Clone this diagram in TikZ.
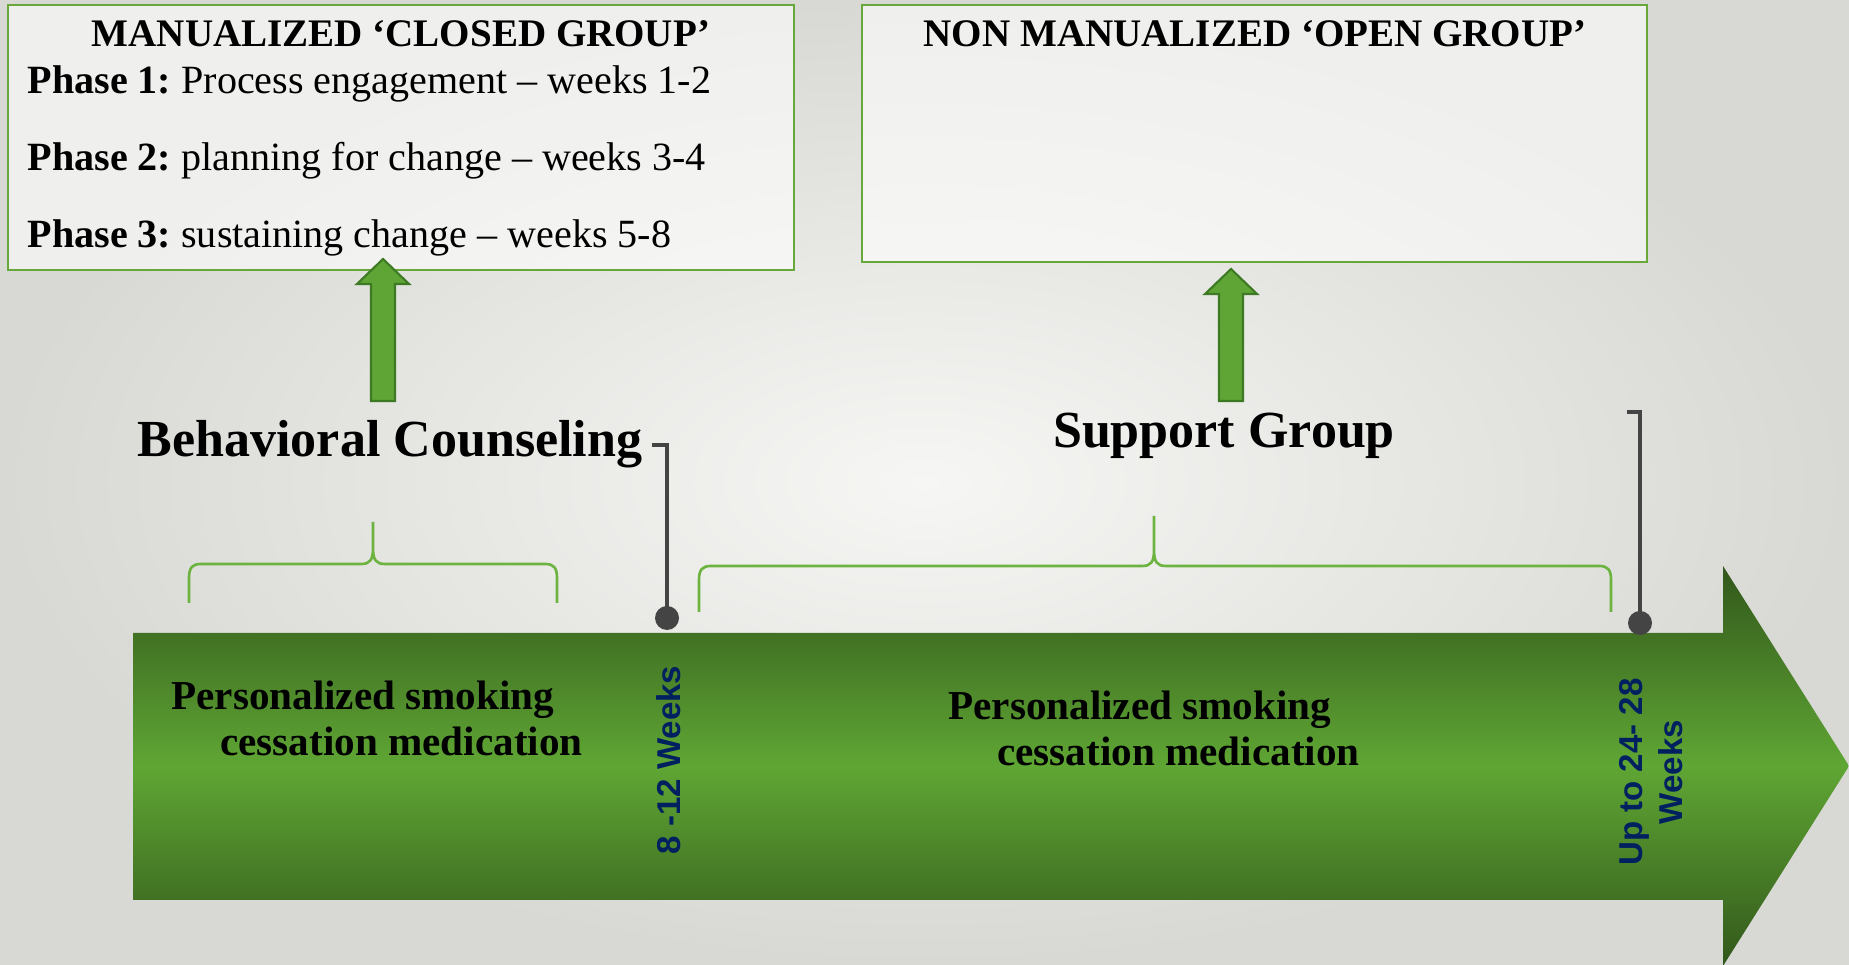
\documentclass[tikz,border=0pt]{standalone}
\usepackage{fontspec}
\setmainfont{Liberation Serif}
\setsansfont{Liberation Sans}
\usepackage[table]{xcolor}
\usepackage{tikz}

\definecolor{bgin}{HTML}{F6F6F4}
\definecolor{bgout}{HTML}{D8D8D4}
\definecolor{boxgreen}{HTML}{68A83A}
\definecolor{brcgreen}{HTML}{6DB33F}
\definecolor{dkgreen}{HTML}{32571B}
\definecolor{brgreen}{HTML}{5FA634}
\definecolor{arrfill}{HTML}{5FA535}
\definecolor{arrline}{HTML}{3E7A24}
\definecolor{tickgray}{HTML}{444444}
\definecolor{wknavy}{HTML}{002060}

\begin{document}
\frenchspacing
\begin{tikzpicture}[x=0.01cm, y=-0.01cm,
    box/.style={draw=boxgreen, line width=0.6pt, fill=white, fill opacity=0.6, inner sep=0pt},
    head/.style={font=\fontsize{11.1}{13}\selectfont\bfseries, anchor=base},
    phase/.style={font=\fontsize{11.4}{13}\selectfont, anchor=base west, inner sep=0pt},
    title/.style={font=\fontsize{14.8}{17}\selectfont\bfseries, anchor=base},
    medtxt/.style={font=\fontsize{11.7}{13.1}\selectfont\bfseries, align=left, inner sep=0pt},
    wk/.style={font=\fontsize{9.4}{11.4}\selectfont\sffamily\bfseries, text=wknavy, rotate=90, align=center, inner sep=0pt},
    brc/.style={draw=brcgreen, line width=0.75pt},
    uparr/.style={fill=arrfill, draw=arrline, line width=0.6pt},
    tick/.style={draw=tickgray, line width=1pt}]
    \useasboundingbox (0,0) rectangle (1849,965);
    \shade[inner color=bgin, outer color=bgout] (0,0) rectangle (1849,965);
    % the two group boxes
    \node[box, minimum width=7.86cm, minimum height=2.65cm] (cbox) at (401,137.5) {};
    \node[box, minimum width=7.85cm, minimum height=2.57cm] (obox) at (1254.5,133.5) {};
    \node[head] (chead) at (401,47) {MANUALIZED ‘CLOSED GROUP’};
    \node[head] (ohead) at (1255,47) {NON MANUALIZED ‘OPEN GROUP’};
    \foreach \n/\y/\txt in {1/94/Process engagement -- weeks 1-2,2/171/planning for change -- weeks 3-4,3/248/sustaining change -- weeks 5-8}
        \node[phase] (ph\n) at (27,\y) {\textbf{Phase \n:} \txt};
    % block arrows up to the boxes
    \foreach \x/\yb/\yt in {383/401/259,1231/401/269}
        \draw[uparr] (\x-12,\yb) -- (\x-12,\yt+25) -- (\x-26,\yt+25) -- (\x,\yt)
            -- (\x+26,\yt+25) -- (\x+12,\yt+25) -- (\x+12,\yb) -- cycle;
    \node[title] (bc) at (390,457) {Behavioral Counseling};
    \node[title] (sg) at (1224,448) {Support Group};
    % braces
    \foreach \a/\m/\b/\yh/\yb/\yt in {189/373/557/564/603/522,699/1154/1611/566/612/516}
        \draw[brc] (\a,\yb) -- (\a,\yh+14) .. controls (\a,\yh+4) and (\a+3,\yh) .. (\a+12,\yh)
            -- (\m-12,\yh) .. controls (\m-3,\yh) and (\m,\yh-4) .. (\m,\yh-16) -- (\m,\yt)
            -- (\m,\yh-16) .. controls (\m,\yh-4) and (\m+3,\yh) .. (\m+12,\yh)
            -- (\b-12,\yh) .. controls (\b-3,\yh) and (\b,\yh+4) .. (\b,\yh+14) -- (\b,\yb);
    % time line arrow
    \shade[top color=dkgreen, bottom color=dkgreen, middle color=brgreen]
        (133,633) -- (1723,633) -- (1723,566) -- (1849,766) -- (1723,966) -- (1723,900) -- (133,900) -- cycle;
    \node[medtxt] (med1) at (377,718) {Personalized smoking\\\hspace*{0.49cm}cessation medication};
    \node[medtxt] (med2) at (1154,728) {Personalized smoking\\\hspace*{0.49cm}cessation medication};
    \node[wk] (w1) at (669,760) {8 -12 Weeks};
    \node[wk] (w2) at (1651,772) {Up to 24- 28\\Weeks};
    % markers
    \coordinate (d1) at (667,618);
    \coordinate (d2) at (1640,623);
    \coordinate (e1) at (652,445);
    \coordinate (e2) at (1627,412);
    \draw[tick] (e1) -| (d1);
    \draw[tick] (e2) -| (d2);
    \fill[tickgray] (d1) circle[radius=0.12cm];
    \fill[tickgray] (d2) circle[radius=0.12cm];
\end{tikzpicture}
\end{document}
